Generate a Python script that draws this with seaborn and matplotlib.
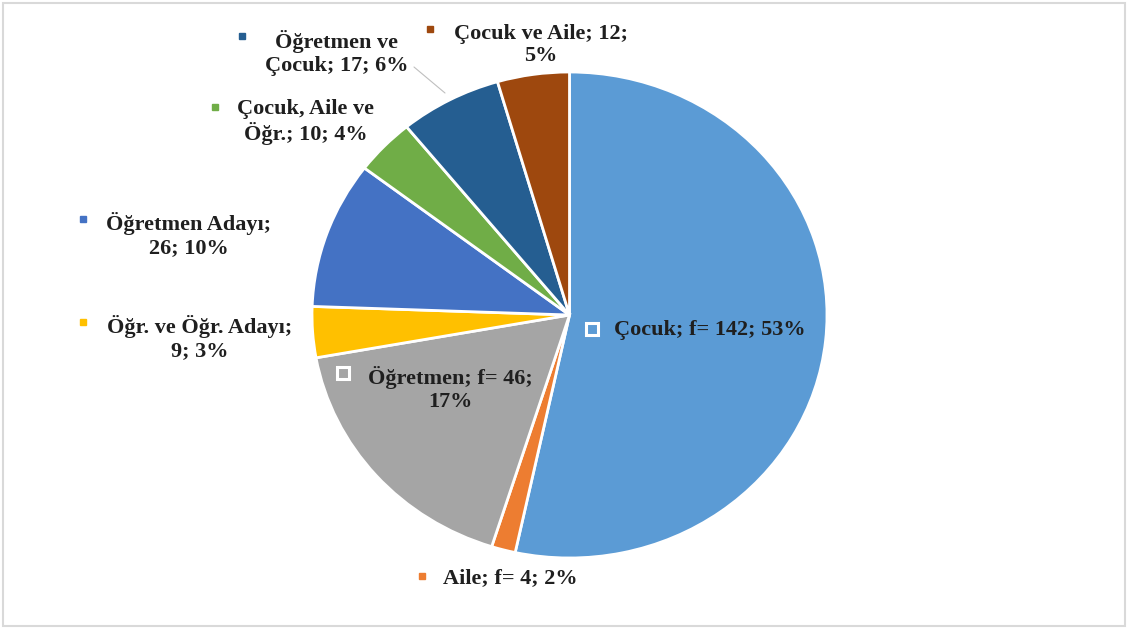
import matplotlib
matplotlib.use("Agg")
import matplotlib.pyplot as plt
import seaborn as sns
from matplotlib.patches import Rectangle

# ---- data ----
categories = ["Çocuk", "Aile", "Öğretmen", "Öğr. ve Öğr. Adayı", "Öğretmen Adayı",
              "Çocuk, Aile ve Öğr.", "Öğretmen ve Çocuk", "Çocuk ve Aile"]
counts = [142, 4, 46, 9, 26, 10, 17, 12]
use_f = [True, True, True, False, False, False, False, False]
colors = ["#5B9BD5", "#ED7D31", "#A5A5A5", "#FFC000", "#4472C4",
          "#70AD47", "#255E91", "#9E480E"]

total = sum(counts)
pcts = [round(c / total * 100) for c in counts]

def make_label(i):
    num = f"f= {counts[i]}" if use_f[i] else f"{counts[i]}"
    return f"{categories[i]}; {num}; {pcts[i]}%"

labels = [make_label(i) for i in range(len(counts))]
# manual line breaks as in the original
breaks = {
    2: ("Öğretmen; f= {c};", "{p}%"),
    3: ("Öğr. ve Öğr. Adayı;", "{c}; {p}%"),
    4: ("Öğretmen Adayı;", "{c}; {p}%"),
    5: ("Çocuk, Aile ve", "Öğr.; {c}; {p}%"),
    6: ("Öğretmen ve", "Çocuk; {c}; {p}%"),
    7: ("Çocuk ve Aile; {c};", "{p}%"),
}
for i, (a, b) in breaks.items():
    labels[i] = a.format(c=counts[i], p=pcts[i]) + "\n" + b.format(c=counts[i], p=pcts[i])

# ---- layout (pixels) ----
W, H = 1127, 628
cx, cy = 569.5, 315.0
rx, ry = 257.5, 243.0

sns.set_theme(style="white")
plt.rcParams["font.family"] = ["Liberation Serif", "DejaVu Serif"]

fig = plt.figure(figsize=(W / 100, H / 100), dpi=100)
fig.patch.set_facecolor("white")
ax = fig.add_axes([0, 0, 1, 1])

ax.pie(counts, colors=colors, startangle=90, counterclock=False,
       wedgeprops=dict(edgecolor="white", linewidth=2), radius=1.0, frame=True)
ax.set_xlim(-cx / rx, (W - cx) / rx)
ax.set_ylim(-(H - cy) / ry, cy / ry)
ax.set_aspect("auto")
ax.axis("off")

def px(x, y):
    return (x - cx) / rx, (cy - y) / ry

# label placement: (marker x, marker y, text center x, text center y)
label_pos = [
    (592, 329, 710, 330),
    (422, 576, 510, 578),
    (343, 373, 450, 389),
    (83, 322, 200, 338),
    (83, 219, 189, 235),
    (215, 107, 306, 122),
    (242, 36, 337, 53),
    (430, 29, 541, 45),
]
inside = [True, False, True, False, False, False, False, False]

for i, (mx, my, tx, ty) in enumerate(label_pos):
    x, y = px(tx, ty)
    ax.text(x, y, labels[i], ha="center", va="center", fontsize=16,
            fontweight="bold", color="#1f1f1f", linespacing=1.15)
    mxd, myd = px(mx, my)
    if inside[i]:
        ax.plot(mxd, myd, marker="s", markersize=8, markerfacecolor=colors[i],
                markeredgecolor="white", markeredgewidth=2.2, linestyle="none")
    else:
        ax.plot(mxd, myd, marker="s", markersize=5, color=colors[i], linestyle="none")

# leader line for "Öğretmen ve Çocuk"
x0, y0 = px(414, 67)
x1, y1 = px(445, 93)
ax.plot([x0, x1], [y0, y1], color="#BFBFBF", linewidth=0.8)

# figure border
fig.add_artist(Rectangle((3 / W, 2 / H), (W - 5) / W, (H - 4.5) / H, transform=fig.transFigure,
                         fill=False, edgecolor="#D9D9D9", linewidth=1.5))

fig.savefig("out.png", dpi=100, facecolor="white")
